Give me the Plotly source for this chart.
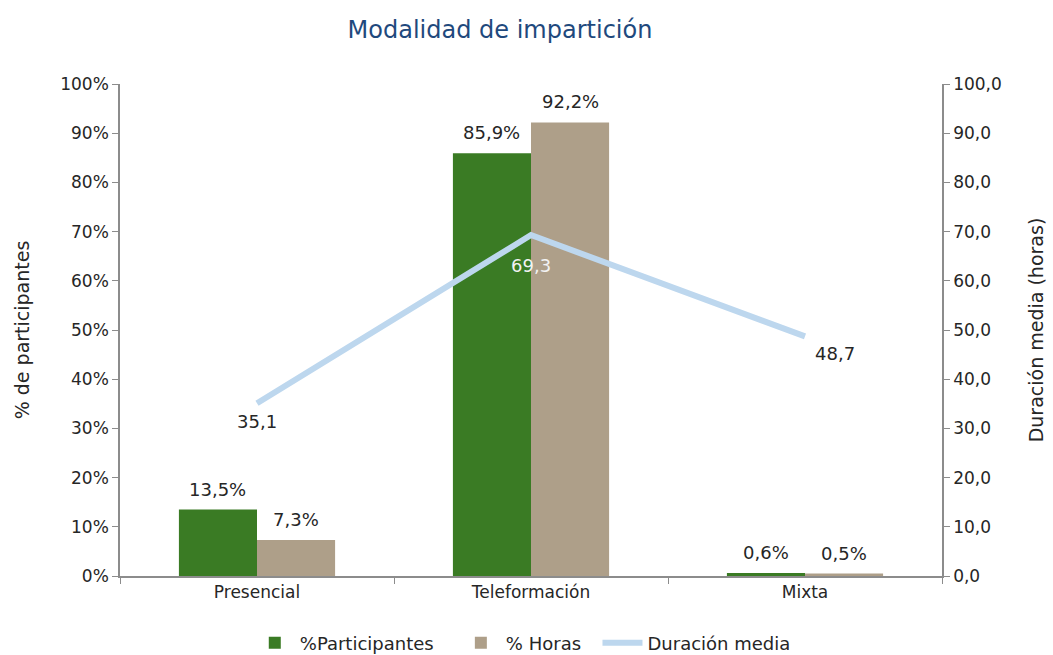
import plotly.graph_objects as go

categories = ["Presencial", "Teleformación", "Mixta"]
pct_participantes = [13.5, 85.9, 0.6]
pct_horas = [7.3, 92.2, 0.5]
duracion_media = [35.1, 69.3, 48.7]
series_names = ["%Participantes", "% Horas", "Duración media"]

left_ticks = list(range(0, 101, 10))
right_ticks = list(range(0, 101, 10))

def fmt(v, suffix=""):
    return f"{v:.1f}".replace(".", ",") + suffix

FONT = "DejaVu Sans, Verdana, sans-serif"
TXT = "#262626"
W, H = 1053, 655
ML, MR, MT, MB = 120, 111, 84, 79
BARGAP = 0.43
NBSP = "\u00a0"

fig = go.Figure()
fig.add_trace(go.Bar(
    x=categories, y=pct_participantes, name=series_names[0] + NBSP * 3,
    marker=dict(color="#3A7B24", line=dict(width=0)),
))
fig.add_trace(go.Bar(
    x=categories, y=pct_horas, name=series_names[1] + NBSP * 2,
    marker=dict(color="#AE9F89", line=dict(width=0)),
))
fig.add_trace(go.Scatter(
    x=categories, y=duracion_media, name=series_names[2], yaxis="y2",
    mode="lines", line=dict(color="#BDD7EE", width=6),
))

# data labels
plot_w = W - ML - MR
bar_w = plot_w / len(categories) * (1 - BARGAP) / 2
annotations = []
for series, sign in ((pct_participantes, -1), (pct_horas, 1)):
    for c, v in zip(categories, series):
        annotations.append(dict(
            x=c, y=v, xref="x", yref="y", text=fmt(v, "%"), showarrow=False,
            xshift=sign * bar_w / 2, yshift=8, yanchor="bottom",
            font=dict(size=18, color=TXT, family=FONT)))
line_label_shift = [(0, -18), (0, -30), (30, -17)]
line_label_color = [TXT, "#F2F2F2", TXT]
for c, v, (dx, dy), col in zip(categories, duracion_media, line_label_shift, line_label_color):
    annotations.append(dict(
        x=c, y=v, xref="x", yref="y2", text=fmt(v), showarrow=False,
        xshift=dx, yshift=dy, yanchor="middle",
        font=dict(size=18, color=col, family=FONT)))

axis_col = "#8C8C8C"
fig.update_layout(
    width=W, height=H,
    paper_bgcolor="white", plot_bgcolor="white",
    margin=dict(l=ML, r=MR, t=MT, b=MB, autoexpand=False),
    separators=",.",
    font=dict(family=FONT, size=17, color=TXT),
    title=dict(text="Modalidad de impartición", x=500 / W, xanchor="center",
               y=1 - 30 / H, yanchor="middle", yref="container",
               font=dict(size=24, color="#1F497D", family=FONT)),
    barmode="group", bargap=BARGAP, bargroupgap=0,
    showlegend=True,
    annotations=annotations,
    legend=dict(orientation="h", x=0.49, xanchor="center", y=-(643 - (H - MB)) / (H - MT - MB),
                yanchor="middle", font=dict(size=18, color=TXT, family=FONT),
                traceorder="normal", itemwidth=40),
    xaxis=dict(type="category", showline=True, linecolor=axis_col, linewidth=1.5,
               ticks="outside", tickson="boundaries", ticklen=6, tickcolor=axis_col,
               showgrid=False, tickfont=dict(size=17, color=TXT)),
    yaxis=dict(range=[0, 100], tickmode="array", tickvals=left_ticks,
               ticktext=[f"{t}%" for t in left_ticks],
               showline=True, linecolor=axis_col, linewidth=1.5, ticks="outside",
               ticklen=6, tickcolor=axis_col, showgrid=False, zeroline=False,
               title=dict(text="% de participantes", standoff=26,
                          font=dict(size=19, color=TXT)),
               tickfont=dict(size=17, color=TXT)),
    yaxis2=dict(range=[0, 100], tickmode="array", tickvals=right_ticks,
                ticktext=[fmt(t) for t in right_ticks],
                overlaying="y", side="right",
                showline=True, linecolor=axis_col, linewidth=1.5, ticks="outside",
                ticklen=6, tickcolor=axis_col, showgrid=False, zeroline=False,
                title=dict(text="Duración media (horas)", standoff=29,
                           font=dict(size=19, color=TXT)),
                tickfont=dict(size=17, color=TXT)),
)

fig.write_html("out.html", config={"displayModeBar": False},
               post_script="document.body.style.margin='0';document.body.style.overflow='hidden';")
